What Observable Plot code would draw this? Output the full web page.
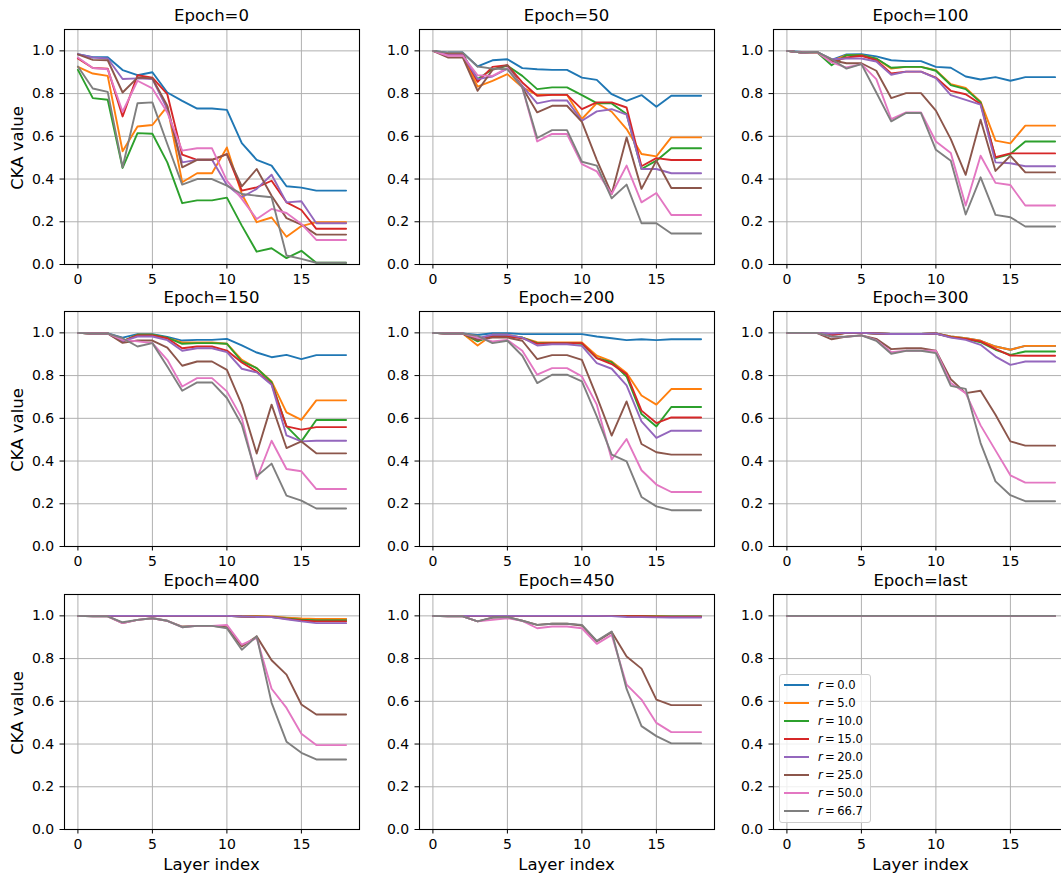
<!DOCTYPE html>
<html>
<head>
<meta charset="utf-8">
<script src="https://cdn.jsdelivr.net/npm/d3@7"></script>
<script src="https://cdn.jsdelivr.net/npm/@observablehq/plot@0.6"></script>
<style>
html, body { margin: 0; padding: 0; background: #fff; overflow: hidden; }
#chart { position: relative; width: 1061px; height: 877px; overflow: hidden; font-family: "DejaVu Sans", sans-serif; color: #000; background: #fff; }
.panel { position: absolute; }
.title, .xlab { position: absolute; font-size: 16.5px; line-height: 20px; text-align: center; white-space: nowrap; }
.ylab { position: absolute; font-size: 16.5px; line-height: 20px; width: 120px; text-align: center; white-space: nowrap; transform: rotate(-90deg); transform-origin: 50% 50%; }
.legend { position: absolute; box-sizing: border-box; border: 1px solid #cccccc; border-radius: 3px; background: rgba(255,255,255,0.8); font-size: 11.6px; }
.legend .row { position: absolute; left: 0; height: 14px; line-height: 14px; white-space: nowrap; }
.legend .sw { position: absolute; left: 4px; top: 6px; width: 25px; height: 2px; }
.legend .lb { position: absolute; left: 38px; top: 0; }
</style>
</head>
<body>
<div id="chart"></div>
<script>
// ---------- data ----------
const layers = [0, 1, 2, 3, 4, 5, 6, 7, 8, 9, 10, 11, 12, 13, 14, 15, 16, 17, 18];
const rLabels = ["0.0", "5.0", "10.0", "15.0", "20.0", "25.0", "50.0", "66.7"];
const epochTitles = ["Epoch=0", "Epoch=50", "Epoch=100", "Epoch=150", "Epoch=200", "Epoch=300", "Epoch=400", "Epoch=450", "Epoch=last"];
const xTicks = [0, 5, 10, 15];
const yTicks = [0, 0.2, 0.4, 0.6, 0.8, 1.0];

// each epoch: one array per r (in rLabels order), one value per layer
const epoch0 = [
  [0.984,0.970,0.970,0.910,0.886,0.900,0.805,0.766,0.730,0.730,0.724,0.568,0.490,0.463,0.366,0.360,0.346,0.346,0.346],
  [0.925,0.894,0.883,0.530,0.646,0.653,0.740,0.385,0.427,0.427,0.548,0.330,0.198,0.220,0.130,0.180,0.198,0.198,0.198],
  [0.911,0.779,0.771,0.452,0.615,0.612,0.478,0.287,0.300,0.300,0.313,0.182,0.060,0.076,0.030,0.064,0.008,0.008,0.008],
  [0.964,0.920,0.917,0.693,0.886,0.875,0.797,0.514,0.490,0.490,0.517,0.346,0.361,0.392,0.291,0.255,0.167,0.167,0.167],
  [0.984,0.969,0.964,0.868,0.871,0.868,0.727,0.478,0.490,0.490,0.372,0.315,0.354,0.420,0.291,0.296,0.193,0.193,0.193],
  [0.984,0.958,0.956,0.805,0.875,0.871,0.743,0.455,0.490,0.490,0.517,0.366,0.447,0.322,0.217,0.187,0.140,0.140,0.140],
  [0.969,0.920,0.914,0.715,0.860,0.824,0.712,0.533,0.544,0.544,0.393,0.307,0.213,0.260,0.241,0.190,0.115,0.115,0.115],
  [0.927,0.824,0.808,0.455,0.755,0.759,0.564,0.374,0.400,0.400,0.369,0.330,0.322,0.315,0.042,0.026,0.008,0.008,0.008]
];
const epoch50 = [
  [1.000,0.992,0.992,0.927,0.956,0.961,0.919,0.914,0.911,0.911,0.875,0.864,0.797,0.766,0.793,0.738,0.790,0.790,0.790],
  [1.000,0.980,0.980,0.833,0.860,0.891,0.829,0.794,0.794,0.794,0.681,0.755,0.715,0.634,0.517,0.506,0.595,0.595,0.595],
  [1.000,0.984,0.984,0.868,0.914,0.930,0.883,0.821,0.829,0.829,0.793,0.755,0.754,0.704,0.447,0.486,0.544,0.544,0.544],
  [1.000,0.984,0.984,0.855,0.925,0.933,0.852,0.790,0.794,0.794,0.727,0.759,0.759,0.735,0.460,0.498,0.489,0.489,0.489],
  [1.000,0.980,0.980,0.868,0.880,0.917,0.836,0.754,0.768,0.768,0.673,0.717,0.727,0.702,0.447,0.447,0.427,0.427,0.427],
  [1.000,0.969,0.969,0.813,0.911,0.933,0.829,0.712,0.743,0.743,0.668,0.490,0.330,0.595,0.354,0.486,0.358,0.358,0.358],
  [1.000,0.977,0.977,0.886,0.883,0.919,0.829,0.576,0.611,0.611,0.470,0.436,0.330,0.463,0.291,0.335,0.232,0.232,0.232],
  [1.000,0.992,0.992,0.927,0.917,0.914,0.829,0.592,0.629,0.629,0.481,0.463,0.310,0.374,0.193,0.193,0.145,0.145,0.145]
];
const epoch100 = [
  [1.000,0.995,0.995,0.958,0.983,0.984,0.974,0.956,0.952,0.952,0.925,0.921,0.880,0.866,0.877,0.860,0.877,0.877,0.877],
  [1.000,0.992,0.995,0.953,0.980,0.980,0.964,0.917,0.925,0.925,0.910,0.844,0.826,0.762,0.580,0.567,0.650,0.650,0.650],
  [1.000,0.992,0.995,0.933,0.980,0.980,0.964,0.921,0.925,0.925,0.907,0.840,0.821,0.759,0.498,0.517,0.576,0.576,0.576],
  [1.000,0.992,0.995,0.949,0.969,0.977,0.956,0.894,0.903,0.903,0.875,0.813,0.797,0.751,0.502,0.520,0.520,0.520,0.520],
  [1.000,0.992,0.995,0.961,0.964,0.964,0.950,0.888,0.903,0.903,0.872,0.793,0.771,0.748,0.478,0.474,0.460,0.460,0.460],
  [1.000,0.992,0.995,0.956,0.942,0.942,0.907,0.779,0.802,0.802,0.720,0.587,0.420,0.678,0.438,0.509,0.431,0.431,0.431],
  [1.000,0.992,0.995,0.946,0.922,0.938,0.868,0.681,0.712,0.712,0.576,0.522,0.276,0.509,0.382,0.372,0.276,0.276,0.276],
  [1.000,0.992,0.995,0.961,0.917,0.938,0.805,0.670,0.709,0.709,0.537,0.486,0.234,0.408,0.232,0.221,0.178,0.178,0.178]
];
const epoch150 = [
  [1.000,0.997,0.997,0.978,0.994,0.994,0.981,0.964,0.967,0.967,0.972,0.941,0.908,0.886,0.897,0.877,0.896,0.896,0.896],
  [1.000,0.997,0.997,0.960,0.991,0.991,0.975,0.955,0.955,0.955,0.949,0.874,0.835,0.773,0.628,0.593,0.684,0.684,0.684],
  [1.000,0.997,0.997,0.960,0.991,0.991,0.978,0.949,0.952,0.952,0.949,0.866,0.835,0.769,0.562,0.492,0.592,0.592,0.592],
  [1.000,0.997,0.997,0.960,0.988,0.988,0.975,0.928,0.936,0.936,0.917,0.861,0.819,0.760,0.562,0.547,0.559,0.559,0.559],
  [1.000,0.997,0.997,0.960,0.983,0.983,0.966,0.916,0.928,0.928,0.910,0.832,0.815,0.757,0.520,0.492,0.495,0.495,0.495],
  [1.000,0.997,0.997,0.953,0.964,0.964,0.931,0.846,0.866,0.866,0.827,0.664,0.435,0.664,0.461,0.492,0.436,0.436,0.436],
  [1.000,0.997,0.997,0.967,0.960,0.952,0.874,0.749,0.788,0.788,0.726,0.601,0.316,0.495,0.363,0.352,0.269,0.269,0.269],
  [1.000,0.997,0.997,0.975,0.936,0.952,0.843,0.729,0.768,0.768,0.695,0.570,0.329,0.388,0.238,0.215,0.178,0.178,0.178]
];
const epoch200 = [
  [1.000,0.997,0.997,0.990,0.998,0.998,0.994,0.994,0.994,0.994,0.994,0.983,0.975,0.966,0.970,0.966,0.970,0.970,0.970],
  [1.000,0.997,0.997,0.941,0.991,0.991,0.978,0.956,0.955,0.955,0.955,0.893,0.866,0.812,0.707,0.664,0.737,0.737,0.737],
  [1.000,0.997,0.997,0.960,0.986,0.986,0.978,0.952,0.952,0.952,0.949,0.882,0.863,0.796,0.620,0.562,0.653,0.653,0.653],
  [1.000,0.997,0.997,0.967,0.983,0.983,0.975,0.949,0.952,0.952,0.952,0.882,0.854,0.807,0.636,0.578,0.604,0.604,0.604],
  [1.000,0.997,0.997,0.975,0.991,0.991,0.978,0.941,0.947,0.947,0.939,0.858,0.832,0.754,0.586,0.508,0.542,0.542,0.542],
  [1.000,0.997,0.997,0.967,0.978,0.978,0.963,0.877,0.896,0.896,0.874,0.702,0.519,0.679,0.480,0.441,0.430,0.430,0.430],
  [1.000,0.997,0.997,0.978,0.960,0.967,0.916,0.804,0.835,0.835,0.796,0.664,0.407,0.503,0.357,0.290,0.255,0.255,0.255],
  [1.000,0.997,0.997,0.986,0.952,0.963,0.893,0.765,0.804,0.804,0.773,0.609,0.430,0.399,0.232,0.188,0.170,0.170,0.170]
];
const epoch300 = [
  [1.000,1.000,1.000,0.994,1.000,1.000,0.997,0.995,0.995,0.995,0.997,0.983,0.975,0.963,0.936,0.921,0.939,0.939,0.939],
  [1.000,1.000,1.000,0.994,1.000,1.000,0.997,0.995,0.995,0.995,0.997,0.983,0.975,0.963,0.936,0.921,0.939,0.939,0.939],
  [1.000,1.000,1.000,0.990,1.000,1.000,0.997,0.995,0.995,0.995,0.997,0.980,0.972,0.956,0.921,0.897,0.913,0.913,0.913],
  [1.000,1.000,1.000,0.990,1.000,1.000,0.997,0.995,0.995,0.995,0.997,0.980,0.972,0.960,0.925,0.894,0.893,0.893,0.893],
  [1.000,1.000,1.000,0.997,1.000,1.000,0.997,0.995,0.995,0.995,0.997,0.978,0.967,0.944,0.889,0.850,0.866,0.866,0.866],
  [1.000,1.000,1.000,0.970,0.983,0.988,0.972,0.924,0.928,0.928,0.916,0.783,0.718,0.729,0.617,0.492,0.472,0.472,0.472],
  [1.000,1.000,1.000,0.983,0.981,0.988,0.966,0.910,0.916,0.916,0.916,0.765,0.718,0.567,0.450,0.333,0.299,0.299,0.299],
  [1.000,1.000,1.000,0.983,0.981,0.988,0.963,0.902,0.916,0.916,0.905,0.752,0.738,0.484,0.305,0.240,0.212,0.212,0.212]
];
const epoch400 = [
  [1.000,1.000,1.000,1.000,1.000,1.000,1.000,1.000,1.000,1.000,1.000,0.998,0.997,0.995,0.990,0.986,0.984,0.984,0.984],
  [1.000,1.000,1.000,1.000,1.000,1.000,1.000,1.000,1.000,1.000,1.000,0.999,0.998,0.997,0.992,0.988,0.986,0.986,0.986],
  [1.000,1.000,1.000,1.000,1.000,1.000,1.000,1.000,1.000,1.000,1.000,0.997,0.996,0.995,0.988,0.982,0.978,0.978,0.978],
  [1.000,1.000,1.000,1.000,1.000,1.000,1.000,1.000,1.000,1.000,1.000,0.997,0.996,0.995,0.986,0.978,0.974,0.974,0.974],
  [1.000,1.000,1.000,1.000,1.000,1.000,1.000,1.000,1.000,1.000,1.000,0.997,0.995,0.994,0.984,0.974,0.966,0.966,0.966],
  [1.000,0.998,0.998,0.966,0.981,0.989,0.977,0.950,0.953,0.953,0.947,0.857,0.904,0.792,0.725,0.585,0.538,0.538,0.538],
  [1.000,0.998,0.998,0.966,0.981,0.989,0.977,0.947,0.953,0.953,0.958,0.865,0.896,0.659,0.569,0.448,0.395,0.395,0.395],
  [1.000,0.998,0.998,0.970,0.981,0.989,0.977,0.947,0.953,0.953,0.942,0.841,0.904,0.593,0.411,0.359,0.328,0.328,0.328]
];
const epoch450 = [
  [1.000,1.000,1.000,1.000,1.000,1.000,1.000,1.000,1.000,1.000,1.000,1.000,1.000,1.000,1.000,0.999,0.999,0.999,0.999],
  [1.000,1.000,1.000,1.000,1.000,1.000,1.000,1.000,1.000,1.000,1.000,1.000,1.000,0.999,0.999,0.998,0.997,0.997,0.997],
  [1.000,1.000,1.000,1.000,1.000,1.000,1.000,1.000,1.000,1.000,1.000,1.000,1.000,0.999,0.998,0.997,0.996,0.996,0.996],
  [1.000,1.000,1.000,1.000,1.000,1.000,1.000,1.000,1.000,1.000,1.000,1.000,0.999,0.999,0.998,0.996,0.995,0.995,0.995],
  [1.000,1.000,1.000,1.000,1.000,1.000,1.000,1.000,1.000,1.000,1.000,1.000,0.999,0.995,0.994,0.993,0.992,0.992,0.992],
  [1.000,0.998,0.998,0.974,0.992,0.994,0.977,0.958,0.963,0.963,0.955,0.880,0.924,0.810,0.753,0.608,0.582,0.582,0.582],
  [1.000,0.998,0.998,0.974,0.981,0.989,0.977,0.942,0.950,0.950,0.942,0.869,0.911,0.678,0.608,0.499,0.456,0.456,0.456],
  [1.000,0.998,0.998,0.974,0.992,0.994,0.977,0.958,0.963,0.963,0.958,0.883,0.927,0.658,0.484,0.437,0.403,0.403,0.403]
];
const epochLast = [
  [1.000,1.000,1.000,1.000,1.000,1.000,1.000,1.000,1.000,1.000,1.000,1.000,1.000,1.000,1.000,1.000,1.000,1.000,1.000],
  [1.000,1.000,1.000,1.000,1.000,1.000,1.000,1.000,1.000,1.000,1.000,1.000,1.000,1.000,1.000,1.000,1.000,1.000,1.000],
  [1.000,1.000,1.000,1.000,1.000,1.000,1.000,1.000,1.000,1.000,1.000,1.000,1.000,1.000,1.000,1.000,1.000,1.000,1.000],
  [1.000,1.000,1.000,1.000,1.000,1.000,1.000,1.000,1.000,1.000,1.000,1.000,1.000,1.000,1.000,1.000,1.000,1.000,1.000],
  [1.000,1.000,1.000,1.000,1.000,1.000,1.000,1.000,1.000,1.000,1.000,1.000,1.000,1.000,1.000,1.000,1.000,1.000,1.000],
  [1.000,1.000,1.000,1.000,1.000,1.000,1.000,1.000,1.000,1.000,1.000,1.000,1.000,1.000,1.000,1.000,1.000,1.000,1.000],
  [1.000,1.000,1.000,1.000,1.000,1.000,1.000,1.000,1.000,1.000,1.000,1.000,1.000,1.000,1.000,1.000,1.000,1.000,1.000],
  [1.000,1.000,1.000,1.000,1.000,1.000,1.000,1.000,1.000,1.000,1.000,1.000,1.000,1.000,1.000,1.000,1.000,1.000,1.000]
];

// ---------- style / layout ----------
const colors = ["#1f77b4", "#ff7f0e", "#2ca02c", "#d62728", "#9467bd", "#8c564b", "#e377c2", "#7f7f7f"];
const epochs = [epoch0, epoch50, epoch100, epoch150, epoch200, epoch300, epoch400, epoch450, epochLast];
const colLeft = [64, 419, 773];
const rowTop = [29, 311, 594];
const frameW = 295, frameH = 235;
const mL = 45, mR = 10, mT = 2, mB = 30;

const chart = document.getElementById("chart");

epochs.forEach((series, i) => {
  const c = i % 3, r = Math.floor(i / 3);
  const rows = [];
  series.forEach((vals, s) => vals.forEach((v, k) => rows.push({layer: layers[k], value: v, r: rLabels[s]})));

  const svg = Plot.plot({
    width: mL + frameW + mR,
    height: mT + frameH + mB,
    marginLeft: mL, marginRight: mR, marginTop: mT, marginBottom: mB,
    x: {domain: [-0.9, 18.9]},
    y: {domain: [0, 1.1]},
    color: {domain: rLabels, range: colors},
    style: {fontFamily: "DejaVu Sans, sans-serif", fontSize: "14px", color: "#000", background: "transparent", overflow: "visible"},
    marks: [
      Plot.gridX(xTicks, {stroke: "#b0b0b0", strokeOpacity: 1, strokeWidth: 1}),
      Plot.gridY(yTicks, {stroke: "#b0b0b0", strokeOpacity: 1, strokeWidth: 1}),
      Plot.line(rows, {x: "layer", y: "value", z: "r", stroke: "r", strokeWidth: 1.9, strokeLinejoin: "round"}),
      Plot.frame({stroke: "#000", strokeWidth: 1.1}),
      Plot.axisX(xTicks, {tickSize: 4.5, tickPadding: 4.8, label: null, fontSize: 14, strokeWidth: 1}),
      Plot.axisY(yTicks, {tickSize: 4.5, tickPadding: 5.8, label: null, fontSize: 14, strokeWidth: 1, tickFormat: d3.format(".1f")})
    ]
  });
  svg.classList.add("panel");
  svg.style.left = (colLeft[c] - mL) + "px";
  svg.style.top = (rowTop[r] - mT) + "px";
  chart.appendChild(svg);

  const t = document.createElement("div");
  t.className = "title";
  t.textContent = epochTitles[i];
  t.style.left = colLeft[c] + "px";
  t.style.width = frameW + "px";
  t.style.top = (rowTop[r] - 23) + "px";
  chart.appendChild(t);

  if (c === 0) {
    const yl = document.createElement("div");
    yl.className = "ylab";
    yl.textContent = "CKA value";
    yl.style.left = (18 - 60) + "px";
    yl.style.top = (rowTop[r] + frameH / 2 + 1.5 - 10) + "px";
    chart.appendChild(yl);
  }
  if (r === 2) {
    const xl = document.createElement("div");
    xl.className = "xlab";
    xl.textContent = "Layer index";
    xl.style.left = colLeft[c] + "px";
    xl.style.width = frameW + "px";
    xl.style.top = "854.5px";
    chart.appendChild(xl);
  }
});

// legend in last panel
const leg = document.createElement("div");
leg.className = "legend";
leg.style.left = "779px";
leg.style.top = "674px";
leg.style.width = "92px";
leg.style.height = "149px";
rLabels.forEach((lab, s) => {
  const row = document.createElement("div");
  row.className = "row";
  row.style.top = (3 + s * 18.05) + "px";
  row.style.width = "90px";
  const sw = document.createElement("div");
  sw.className = "sw";
  sw.style.background = colors[s];
  const lb = document.createElement("div");
  lb.className = "lb";
  lb.innerHTML = "<i>r</i>&#8201;=&#8201;" + lab;
  row.appendChild(sw);
  row.appendChild(lb);
  leg.appendChild(row);
});
chart.appendChild(leg);
</script>
</body>
</html>
